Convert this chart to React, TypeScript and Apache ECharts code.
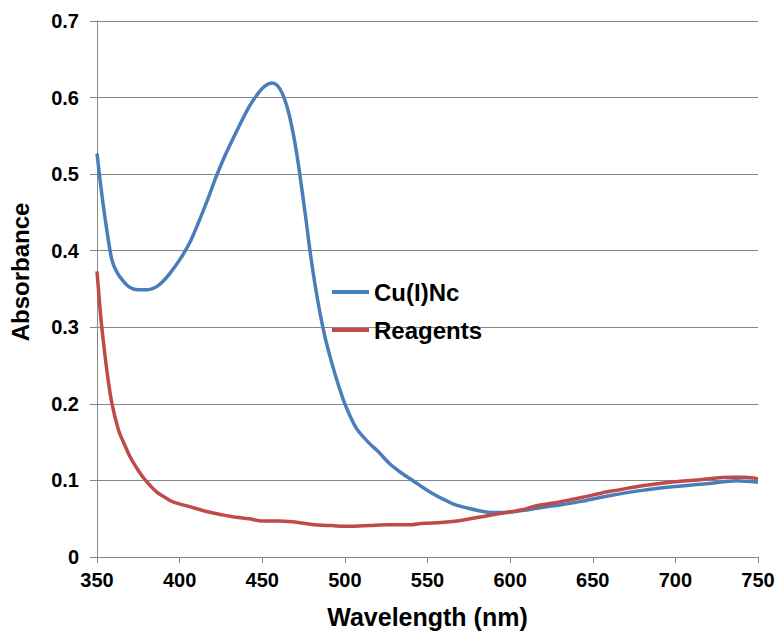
import React, { useEffect, useRef } from "react";
import * as echarts from "echarts";

const xTicks = [350, 400, 450, 500, 550, 600, 650, 700, 750];
const yTicks = [0, 0.1, 0.2, 0.3, 0.4, 0.5, 0.6, 0.7];

const cuWl = [
  350, 353, 356, 359, 362, 366, 370, 375, 380, 386, 390, 394, 400, 406, 412,
  417, 422, 427, 432, 437, 442, 447, 451, 456, 459, 462, 465, 468, 471, 474,
  476.5, 479, 482, 485, 488, 491, 495, 500, 507, 515, 520, 527, 534, 541, 547,
  553, 560, 567, 574, 582, 590, 598, 605, 612, 620, 630, 644, 660, 680, 700,
  720, 737, 750,
];
const cuAbs = [
  0.527, 0.472, 0.426, 0.388, 0.372, 0.36, 0.352, 0.349, 0.349, 0.353, 0.36,
  0.37, 0.388, 0.41, 0.44, 0.467, 0.496, 0.522, 0.545, 0.567, 0.588, 0.604,
  0.614, 0.619, 0.616, 0.606, 0.588, 0.561, 0.525, 0.48, 0.44, 0.398, 0.355,
  0.318, 0.287, 0.262, 0.232, 0.2, 0.168, 0.148, 0.138, 0.122, 0.11, 0.1,
  0.091, 0.083, 0.075, 0.068, 0.064, 0.06, 0.058, 0.058, 0.06, 0.062, 0.065,
  0.068, 0.073, 0.08, 0.087, 0.092, 0.096, 0.0995, 0.0975,
];

const reWl = [
  350, 352, 353, 356, 359, 363, 366, 370, 375, 379, 386, 391, 396, 406, 417,
  426, 434, 442, 450, 460, 468, 475, 482, 492, 502, 515, 526, 538, 548, 558,
  568, 576, 584, 592, 600, 608, 616, 630, 644, 656, 664, 680, 698, 715, 734,
  742, 750,
];
const reAbs = [
  0.373, 0.32, 0.298, 0.243, 0.201, 0.166, 0.15, 0.131, 0.113, 0.101, 0.085,
  0.078, 0.072, 0.0657, 0.059, 0.055, 0.052, 0.05, 0.047, 0.047, 0.046, 0.044,
  0.042, 0.041, 0.04, 0.041, 0.042, 0.042, 0.044, 0.045, 0.047, 0.05, 0.053,
  0.056, 0.059, 0.062, 0.067, 0.072, 0.078, 0.084, 0.087, 0.093, 0.098, 0.101,
  0.104, 0.104, 0.102,
];

const seriesNames = ["Cu(I)Nc", "Reagents"];
const seriesColors = ["#4a7ebb", "#be4b48"];

const FONT = "'Liberation Sans', Arial, sans-serif";
const GREY = "#878787";

export default function App() {
  const ref = useRef<HTMLDivElement>(null);

  useEffect(() => {
    if (!ref.current) return;
    const chart = echarts.init(ref.current, undefined, { renderer: "svg" });
    const zip = (a: number[], b: number[]) => a.map((v, i) => [v, b[i]]);
    chart.setOption({
      animation: false,
      backgroundColor: "#ffffff",
      grid: {
        left: 97,
        right: 21,
        top: 21,
        bottom: 75,
        containLabel: false,
        outerBoundsMode: "none",
      },
      xAxis: {
        type: "value",
        min: xTicks[0],
        max: xTicks[xTicks.length - 1],
        interval: 50,
        name: "Wavelength (nm)",
        nameLocation: "middle",
        nameGap: 47,
        nameTextStyle: {
          fontFamily: FONT,
          fontWeight: "bold",
          fontSize: 25,
          color: "#000",
        },
        axisLine: { show: true, lineStyle: { color: GREY, width: 1 } },
        axisTick: { show: true, length: 6, lineStyle: { color: GREY } },
        splitLine: { show: false },
        axisLabel: {
          fontFamily: FONT,
          fontWeight: "bold",
          fontSize: 20,
          color: "#000",
          margin: 13,
        },
      },
      yAxis: {
        type: "value",
        min: yTicks[0],
        max: yTicks[yTicks.length - 1],
        interval: 0.1,
        axisLine: { show: true, lineStyle: { color: GREY, width: 1 } },
        axisTick: { show: true, length: 7, lineStyle: { color: GREY } },
        splitLine: { show: true, lineStyle: { color: GREY, width: 1 } },
        axisLabel: {
          fontFamily: FONT,
          fontWeight: "bold",
          fontSize: 20,
          color: "#000",
          margin: 18,
          formatter: (v: number) => (v === 0 ? "0" : v.toFixed(1)),
        },
      },
      legend: {
        orient: "vertical",
        left: 332,
        top: 280,
        padding: 0,
        itemWidth: 37,
        itemHeight: 4,
        itemGap: 14,
        icon: "path://M0,0H37V4H0Z",
        selectedMode: false,
        data: seriesNames,
        textStyle: {
          fontFamily: FONT,
          fontWeight: "bold",
          fontSize: 24,
          lineHeight: 24,
          color: "#000",
        },
      },
      graphic: [
        {
          type: "text",
          x: 20,
          y: 272,
          rotation: Math.PI / 2,
          style: {
            text: "Absorbance",
            fontFamily: FONT,
            fontWeight: "bold",
            fontSize: 24,
            fill: "#000",
            align: "center",
            verticalAlign: "middle",
          },
        },
      ],
      series: [
        {
          name: seriesNames[0],
          type: "line",
          data: zip(cuWl, cuAbs),
          symbol: "none",
          smooth: 0.3,
          color: seriesColors[0],
          lineStyle: { color: seriesColors[0], width: 3.5 },
          z: 2,
        },
        {
          name: seriesNames[1],
          type: "line",
          data: zip(reWl, reAbs),
          symbol: "none",
          smooth: 0.3,
          color: seriesColors[1],
          lineStyle: { color: seriesColors[1], width: 3.5 },
          z: 3,
        },
      ],
    });
    return () => chart.dispose();
  }, []);

  return (
    <div
      ref={ref}
      style={{
        position: "fixed",
        left: 0,
        top: 0,
        width: 779,
        height: 632,
        background: "#fff",
      }}
    />
  );
}
